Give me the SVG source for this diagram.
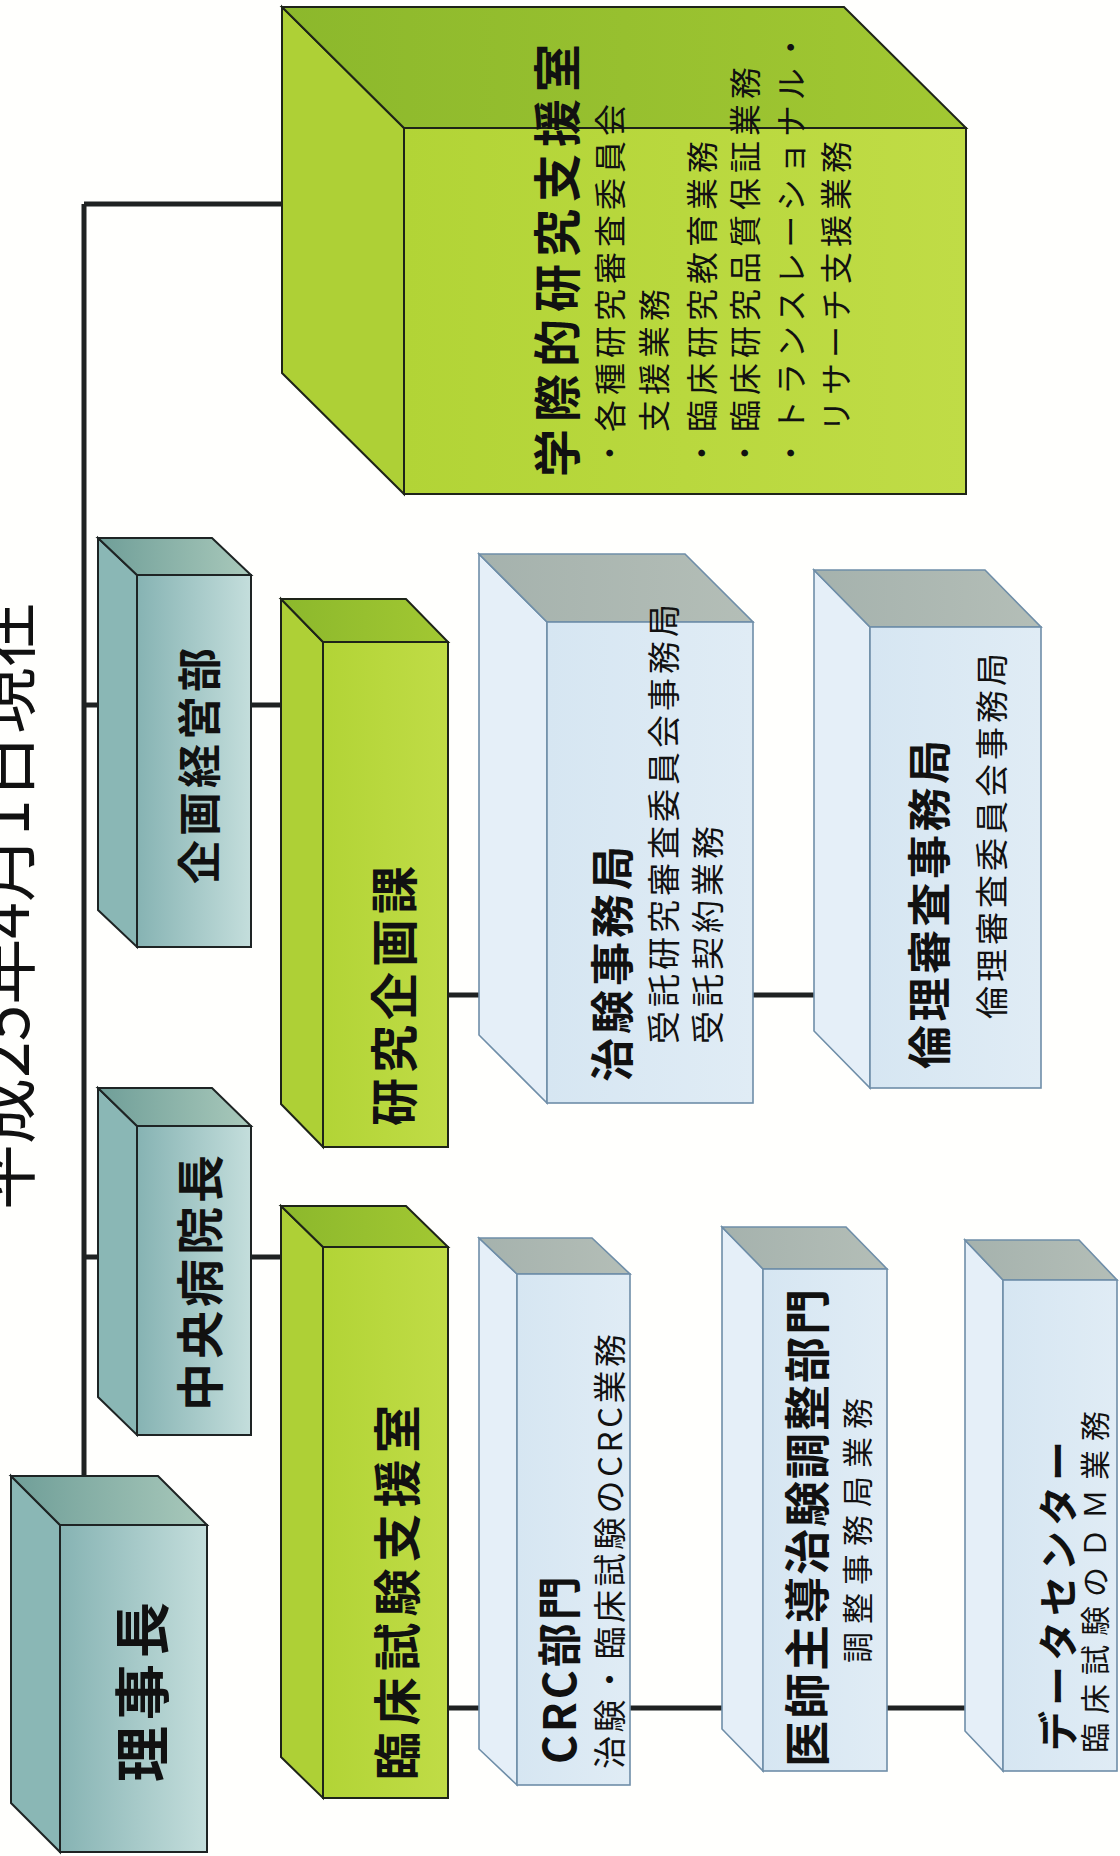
<svg xmlns="http://www.w3.org/2000/svg" width="1120" height="1856" viewBox="0 0 1120 1856">
<defs>
<linearGradient id="tealFront" x1="0" y1="0" x2="1" y2="0"><stop offset="0" stop-color="#86b3b3"/><stop offset="1" stop-color="#c4dedc"/></linearGradient>
<linearGradient id="tealTop" x1="0" y1="0" x2="1" y2="0"><stop offset="0" stop-color="#6f9e98"/><stop offset="1" stop-color="#a9c9bb"/></linearGradient>
<linearGradient id="greenFront" x1="0" y1="0" x2="1" y2="0"><stop offset="0" stop-color="#b2d436"/><stop offset="1" stop-color="#c0dc46"/></linearGradient>
<linearGradient id="greenTop" x1="0" y1="0" x2="1" y2="0"><stop offset="0" stop-color="#8cb82c"/><stop offset="1" stop-color="#a2c832"/></linearGradient>
<linearGradient id="blueFront" x1="0" y1="0" x2="1" y2="0"><stop offset="0" stop-color="#d6e6f2"/><stop offset="1" stop-color="#e0ecf5"/></linearGradient>
<linearGradient id="blueTop" x1="0" y1="0" x2="1" y2="0"><stop offset="0" stop-color="#a5b2ad"/><stop offset="1" stop-color="#b4beb7"/></linearGradient>
</defs>
<style>
.tf{fill:url(#tealFront);stroke:#1e2424;stroke-width:2}
.tt{fill:url(#tealTop);stroke:#1e2424;stroke-width:2}
.tl{fill:#8ab7b5;stroke:#1e2424;stroke-width:2}
.gf{fill:url(#greenFront);stroke:#1e2418;stroke-width:2}
.gt{fill:url(#greenTop);stroke:#1e2418;stroke-width:2}
.gl{fill:#aed036;stroke:#1e2418;stroke-width:2}
.bf{fill:url(#blueFront);stroke:#6f8ea8;stroke-width:1.6}
.bt{fill:url(#blueTop);stroke:#6f8ea8;stroke-width:1.6}
.bl{fill:#e5eff8;stroke:#6f8ea8;stroke-width:1.6}
.conn{stroke:#1f2222;stroke-width:5;fill:none}
text{font-family:"Noto Sans CJK JP","Noto Sans CJK SC",sans-serif;fill:#111;dominant-baseline:central}
.b{font-weight:bold}
</style>
<rect x="0" y="0" width="1120" height="1856" fill="#fffffd"/>
<text x="0" y="1210" font-size="66" transform="rotate(-90 0 1210)">平成25年4月1日現在</text>
<g id="connectors">
<path class="conn" d="M84,204 V1476 M84,204 H282 M84,705 H98 M251,705 H281 M84,1257 H98 M251,1257 H281 M448,995 H479 M753,995 H814 M448,1708 H479 M630,1708 H722 M887,1708 H965"/>
</g>
<g id="rijicho">
<polygon class="tl" points="11,1476 60,1525 60,1852 11,1803"/>
<polygon class="tt" points="11,1476 158,1476 207,1525 60,1525"/>
<rect class="tf" x="60" y="1525" width="147" height="327"/>
<text class="b" x="138" y="1782" font-size="56" letter-spacing="6" transform="rotate(-90 138 1782)">理事長</text>
</g>
<g id="chuo-byoincho">
<polygon class="tl" points="98,1088 137,1126 137,1435 98,1397"/>
<polygon class="tt" points="98,1088 212,1088 251,1126 137,1126"/>
<rect class="tf" x="137" y="1126" width="114" height="309"/>
<text class="b" x="197" y="1411" font-size="48" letter-spacing="4" transform="rotate(-90 197 1411)">中央病院長</text>
</g>
<g id="kikaku-keiei">
<polygon class="tl" points="98,538 137,575 137,947 98,910"/>
<polygon class="tt" points="98,538 212,538 251,575 137,575"/>
<rect class="tf" x="137" y="575" width="114" height="372"/>
<text class="b" x="197" y="884" font-size="44" letter-spacing="4" transform="rotate(-90 197 884)">企画経営部</text>
</g>
<g id="gakusai">
<polygon class="gl" points="282,7 404,128 404,494 282,373"/>
<polygon class="gt" points="282,7 844,7 966,128 404,128"/>
<rect class="gf" x="404" y="128" width="562" height="366"/>
<text class="b" x="554" y="477" font-size="48" letter-spacing="7" transform="rotate(-90 554 477)">学際的研究支援室</text>
<text x="608" y="469" font-size="32" letter-spacing="5" transform="rotate(-90 608 469)">・各種研究審査委員会</text>
<text x="652" y="432" font-size="32" letter-spacing="5" transform="rotate(-90 652 432)">支援業務</text>
<text x="700" y="469" font-size="32" letter-spacing="5" transform="rotate(-90 700 469)">・臨床研究教育業務</text>
<text x="743" y="469" font-size="32" letter-spacing="5" transform="rotate(-90 743 469)">・臨床研究品質保証業務</text>
<text x="789" y="469" font-size="32" letter-spacing="5" transform="rotate(-90 789 469)">・トランスレーショナル・</text>
<text x="834" y="432" font-size="32" letter-spacing="5" transform="rotate(-90 834 432)">リサーチ支援業務</text>
</g>
<g id="kenkyu-kikaku">
<polygon class="gl" points="281,599 323,642 323,1147 281,1104"/>
<polygon class="gt" points="281,599 406,599 448,642 323,642"/>
<rect class="gf" x="323" y="642" width="125" height="505"/>
<text class="b" x="391" y="1126" font-size="48" letter-spacing="5" transform="rotate(-90 391 1126)">研究企画課</text>
</g>
<g id="rinsho-shien">
<polygon class="gl" points="281,1206 323,1247 323,1798 281,1757"/>
<polygon class="gt" points="281,1206 406,1206 448,1247 323,1247"/>
<rect class="gf" x="323" y="1247" width="125" height="551"/>
<text class="b" x="394" y="1780" font-size="48" letter-spacing="6.5" transform="rotate(-90 394 1780)">臨床試験支援室</text>
</g>
<g id="chiken-jimukyoku">
<polygon class="bl" points="479,554 547,622 547,1103 479,1035"/>
<polygon class="bt" points="479,554 685,554 753,622 547,622"/>
<rect class="bf" x="547" y="622" width="206" height="481"/>
<text class="b" x="610" y="1082" font-size="44" letter-spacing="4" transform="rotate(-90 610 1082)">治験事務局</text>
<text x="662" y="1044" font-size="33" letter-spacing="4" transform="rotate(-90 662 1044)">受託研究審査委員会事務局</text>
<text x="706" y="1044" font-size="33" letter-spacing="4" transform="rotate(-90 706 1044)">受託契約業務</text>
</g>
<g id="rinri-shinsa">
<polygon class="bl" points="814,570 870,627 870,1088 814,1031"/>
<polygon class="bt" points="814,570 985,570 1041,627 870,627"/>
<rect class="bf" x="870" y="627" width="171" height="461"/>
<text class="b" x="927" y="1069" font-size="44" letter-spacing="3.5" transform="rotate(-90 927 1069)">倫理審査事務局</text>
<text x="990" y="1019" font-size="33" letter-spacing="4" transform="rotate(-90 990 1019)">倫理審査委員会事務局</text>
</g>
<g id="crc">
<polygon class="bl" points="479,1238 517,1274 517,1785 479,1749"/>
<polygon class="bt" points="479,1238 592,1238 630,1274 517,1274"/>
<rect class="bf" x="517" y="1274" width="113" height="511"/>
<text class="b" x="557" y="1764" font-size="44" letter-spacing="3" transform="rotate(-90 557 1764)">CRC部門</text>
<text x="608" y="1769" font-size="33" letter-spacing="3.5" transform="rotate(-90 608 1769)">治験・臨床試験のCRC業務</text>
</g>
<g id="ishi-shudo">
<polygon class="bl" points="722,1227 763,1269 763,1771 722,1729"/>
<polygon class="bt" points="722,1227 846,1227 887,1269 763,1269"/>
<rect class="bf" x="763" y="1269" width="124" height="502"/>
<text class="b" x="804" y="1767" font-size="46" letter-spacing="2" transform="rotate(-90 804 1767)">医師主導治験調整部門</text>
<text x="855" y="1663" font-size="31" letter-spacing="8" transform="rotate(-90 855 1663)">調整事務局業務</text>
</g>
<g id="data-center">
<polygon class="bl" points="965,1240 1003,1280 1003,1771 965,1731"/>
<polygon class="bt" points="965,1240 1079,1240 1117,1280 1003,1280"/>
<rect class="bf" x="1003" y="1280" width="114" height="491"/>
<text class="b" x="1056" y="1751" font-size="40" letter-spacing="5" transform="rotate(-90 1056 1751)">データセンター</text>
<text x="1093" y="1753" font-size="30" letter-spacing="9" transform="rotate(-90 1093 1753)">臨床試験のＤＭ業務</text>
</g>
</svg>
